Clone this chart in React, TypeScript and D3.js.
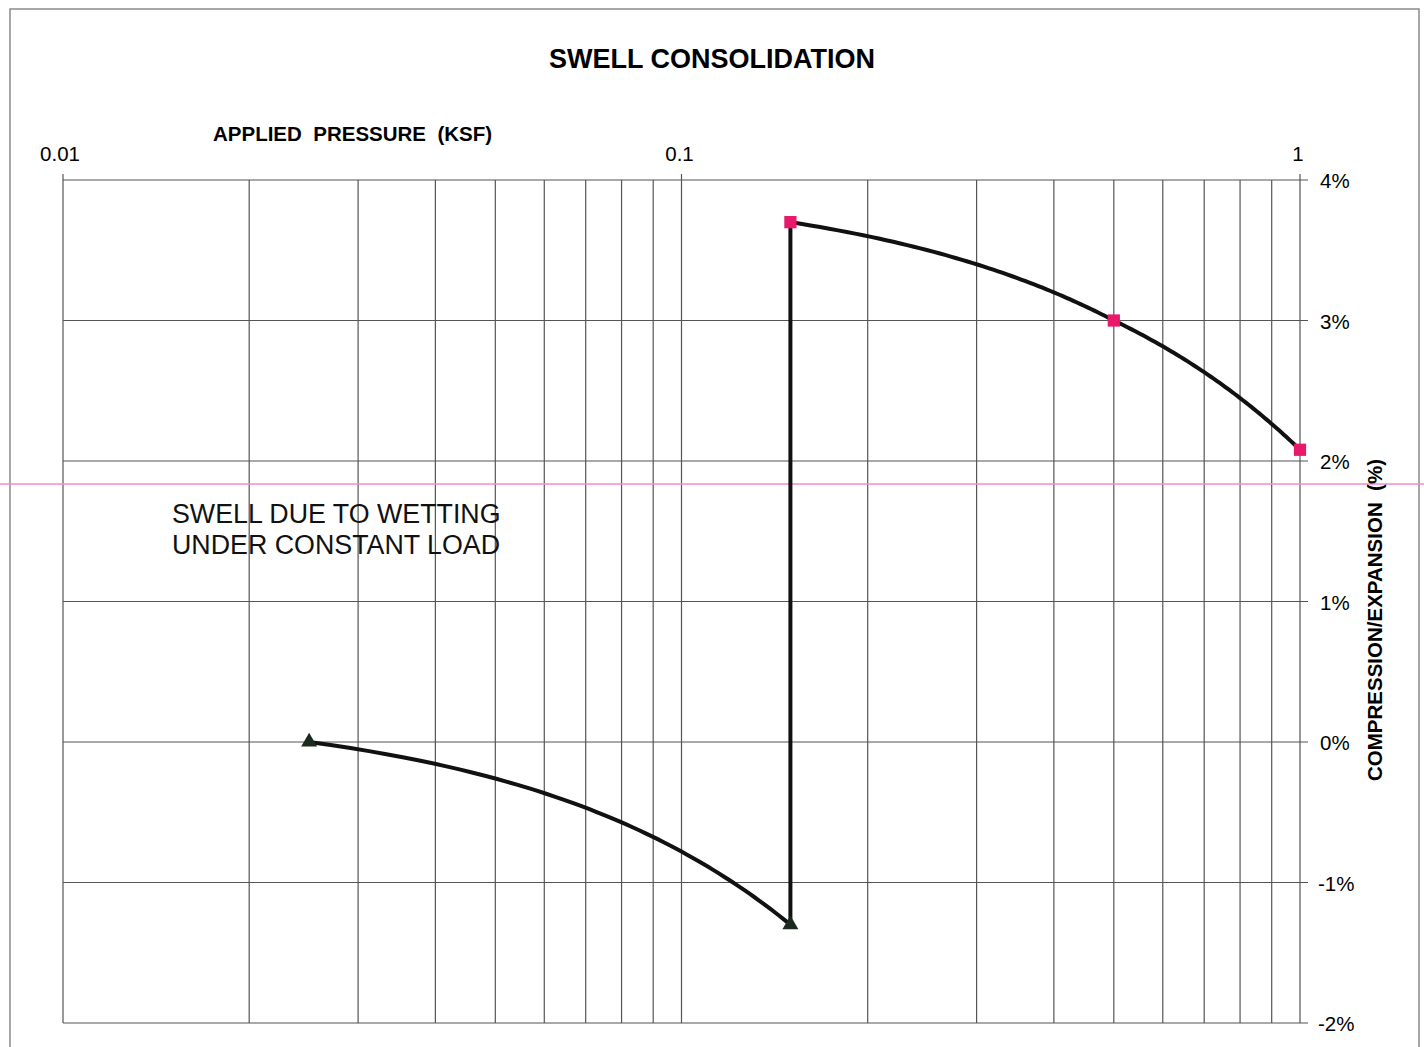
import React, { useEffect, useRef } from 'react';
import * as d3 from 'd3';

// test readings (pressure in ksf, strain in %)
const pressures = [0.025, 0.15, 0.15, 0.5, 1.0];
const strains = [0, -1.3, 3.7, 3.0, 2.08];
const markerKinds = ['triangle', 'triangle', 'square', 'square', 'square'];

const majorTicks = [0.01, 0.1, 1];
const majorTickLabels = ['0.01', '0.1', '1'];
const strainTicks = [4, 3, 2, 1, 0, -1, -2];

const W = 1424;
const H = 1047;

const App: React.FC = () => {
  const ref = useRef<SVGSVGElement>(null);

  useEffect(() => {
    if (!ref.current) return;
    const svg = d3.select(ref.current);
    svg.selectAll('*').remove();

    const font = '"Liberation Sans", Arial, sans-serif';
    const x = d3.scaleLog().domain([0.01, 1]).range([63, 1300]);
    const y = d3.scaleLinear().domain([-2, 4]).range([1023, 180]);

    svg.append('rect').attr('width', W).attr('height', H).attr('fill', '#fff');

    // outer chart frame
    svg.append('path')
      .attr('d', `M10,${H} L10,9 L1419,9 L1419,${H}`)
      .attr('fill', 'none')
      .attr('stroke', '#8a8a8a')
      .attr('stroke-width', 1.5);

    // grid
    const minor = x.ticks(20);
    const grid = svg.append('g').attr('stroke', '#555').attr('stroke-width', 1.2);
    grid.selectAll('line.v')
      .data(minor)
      .enter()
      .append('line')
      .attr('x1', d => x(d)).attr('x2', d => x(d))
      .attr('y1', d => (majorTicks.includes(+d.toFixed(3)) ? y(4) - 6 : y(4)))
      .attr('y2', y(-2));
    grid.selectAll('line.h')
      .data(strainTicks)
      .enter()
      .append('line')
      .attr('x1', x(0.01)).attr('x2', x(1) + 8)
      .attr('y1', d => y(d)).attr('y2', d => y(d));

    // scan artifact line
    svg.append('line')
      .attr('x1', 0).attr('x2', W)
      .attr('y1', 484).attr('y2', 484)
      .attr('stroke', '#f08ad8').attr('stroke-width', 1.5);

    // axis labels
    svg.selectAll('text.xt')
      .data(majorTicks)
      .enter()
      .append('text')
      .attr('x', d => x(d) - (d === 1 ? 2 : d === 0.01 ? 3 : 2))
      .attr('y', 161)
      .attr('text-anchor', 'middle')
      .attr('font-family', font)
      .attr('font-size', 20.5)
      .text((d, i) => majorTickLabels[i]);

    svg.selectAll('text.yt')
      .data(strainTicks)
      .enter()
      .append('text')
      .attr('x', d => (d < 0 ? 1318 : 1320))
      .attr('y', d => y(d) + 8)
      .attr('font-family', font)
      .attr('font-size', 20.5)
      .text(d => `${d}%`);

    svg.append('text')
      .attr('x', 712).attr('y', 68)
      .attr('text-anchor', 'middle')
      .attr('font-family', font).attr('font-weight', 'bold').attr('font-size', 27)
      .text('SWELL CONSOLIDATION');

    svg.append('text')
      .attr('x', 213).attr('y', 141)
      .attr('font-family', font).attr('font-weight', 'bold').attr('font-size', 20.5)
      .style('white-space', 'pre')
      .text('APPLIED  PRESSURE  (KSF)');

    svg.append('text')
      .attr('transform', 'translate(1382,620) rotate(-90)')
      .attr('text-anchor', 'middle')
      .attr('font-family', font).attr('font-weight', 'bold').attr('font-size', 20.5)
      .style('white-space', 'pre')
      .text('COMPRESSION/EXPANSION  (%)');

    const note = svg.append('text')
      .attr('font-family', font).attr('font-size', 26.8).attr('fill', '#111');
    note.append('tspan').attr('x', 172).attr('y', 523).text('SWELL DUE TO WETTING');
    note.append('tspan').attr('x', 172).attr('y', 554).text('UNDER CONSTANT LOAD');

    // readings joined by straight segments in pressure units, shown on the log axis
    const pts: [number, number][] = [];
    for (let i = 0; i < pressures.length - 1; i++) {
      const p0 = pressures[i], p1 = pressures[i + 1];
      const s0 = strains[i], s1 = strains[i + 1];
      const steps = p0 === p1 ? 1 : 60;
      for (let k = 0; k <= steps; k++) {
        const p = p0 + (p1 - p0) * (k / steps);
        const s = s0 + (s1 - s0) * (k / steps);
        pts.push([x(p), y(s)]);
      }
    }
    svg.append('path')
      .attr('d', d3.line()(pts))
      .attr('fill', 'none')
      .attr('stroke', '#111')
      .attr('stroke-width', 4)
      .attr('stroke-linejoin', 'round');

    const data = pressures.map((p, i) => ({ p, s: strains[i], kind: markerKinds[i] }));
    svg.selectAll('path.mk')
      .data(data)
      .enter()
      .append('path')
      .attr('transform', d => `translate(${x(d.p)},${y(d.s)})`)
      .attr('d', d => d3.symbol(d.kind === 'square' ? d3.symbolSquare : d3.symbolTriangle, d.kind === 'square' ? 150 : 110)())
      .attr('fill', d => (d.kind === 'square' ? '#e8186a' : '#1a2a1f'));
  }, []);

  return (
    <div style={{ position: 'absolute', left: 0, top: 0 }}>
      <svg ref={ref} width={W} height={H} style={{ display: 'block' }}></svg>
    </div>
  );
};

export default App;
